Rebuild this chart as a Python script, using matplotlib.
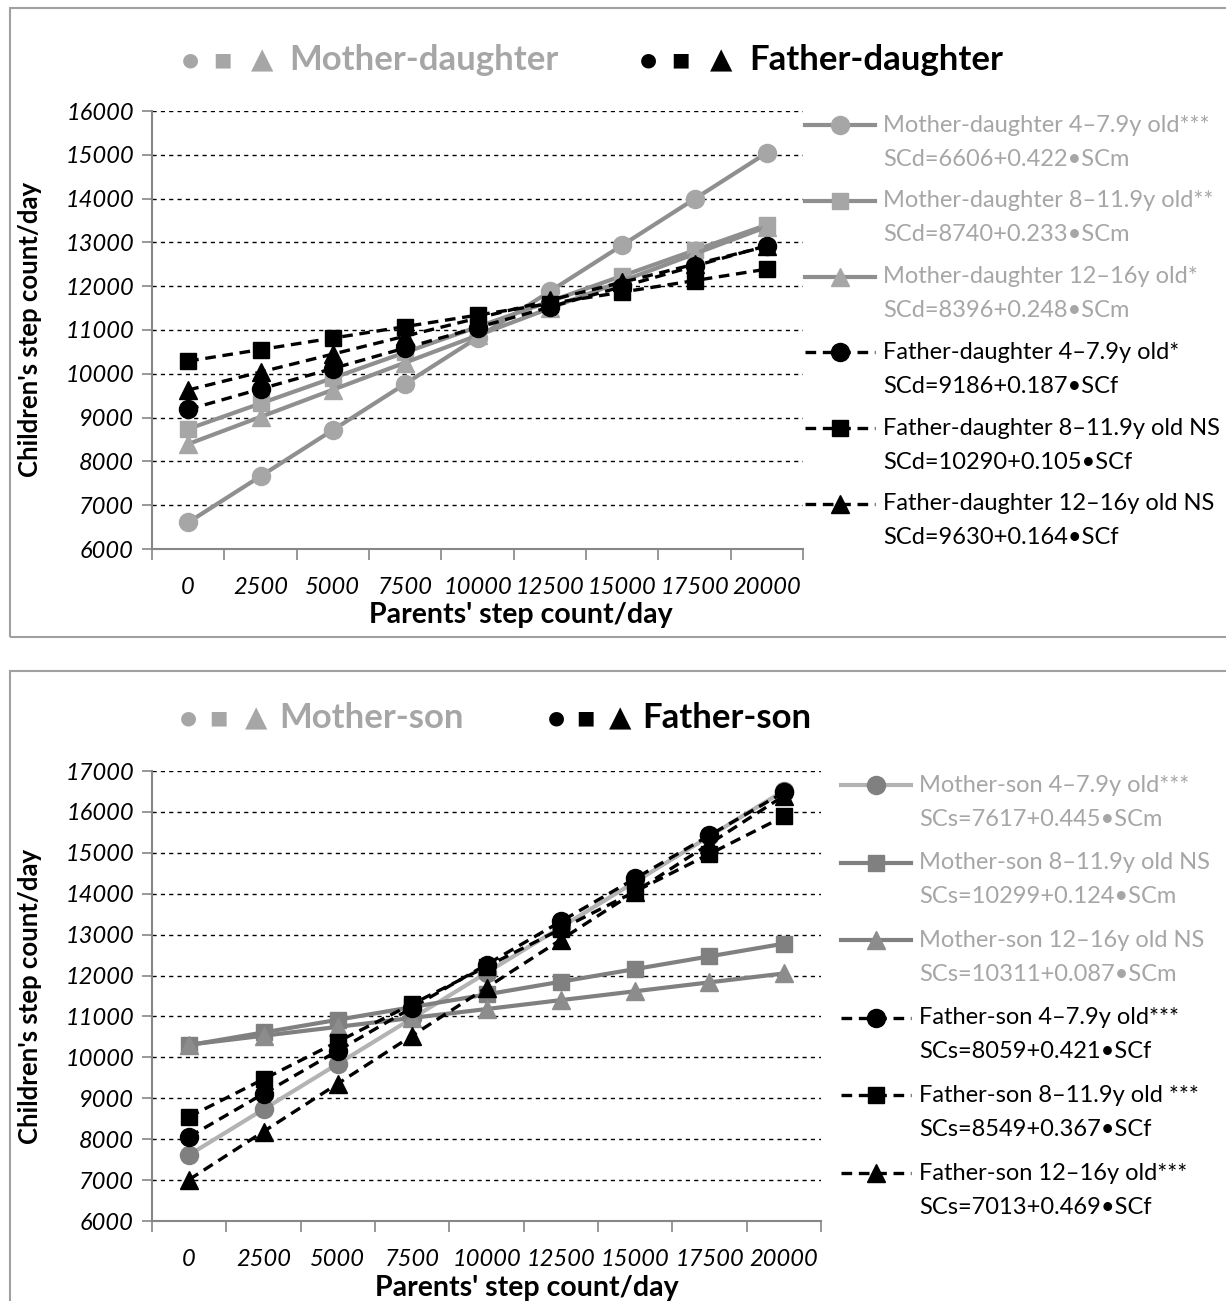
import matplotlib.pyplot as plt
from matplotlib.lines import Line2D
from matplotlib.patches import Rectangle

plt.rcParams['font.family'] = ['Lato', 'DejaVu Sans']

# x categories (parents' step count/day)
x_labels = ['0', '2500', '5000', '7500', '10000', '12500', '15000', '17500', '20000']

# daughters
md_4_7 = [6606, 7661, 8716, 9771, 10826, 11881, 12936, 13991, 15046]
md_8_11 = [8740, 9323, 9905, 10488, 11070, 11653, 12235, 12818, 13400]
md_12_16 = [8396, 9016, 9636, 10256, 10876, 11496, 12116, 12736, 13356]
fd_4_7 = [9186, 9654, 10121, 10589, 11056, 11524, 11991, 12459, 12926]
fd_8_11 = [10290, 10553, 10815, 11078, 11340, 11603, 11865, 12128, 12390]
fd_12_16 = [9630, 10040, 10450, 10860, 11270, 11680, 12090, 12500, 12910]

# sons
ms_4_7 = [7617, 8730, 9842, 10955, 12067, 13180, 14292, 15405, 16517]
ms_8_11 = [10299, 10609, 10919, 11229, 11539, 11849, 12159, 12469, 12779]
ms_12_16 = [10311, 10529, 10746, 10964, 11181, 11399, 11616, 11834, 12051]
fs_4_7 = [8059, 9112, 10164, 11217, 12269, 13322, 14374, 15427, 16479]
fs_8_11 = [8549, 9467, 10384, 11302, 12219, 13137, 14054, 14972, 15889]
fs_12_16 = [7013, 8186, 9358, 10531, 11703, 12876, 14048, 15221, 16393]

labels_d = ['Mother-daughter 4\u20137.9y old***', 'Mother-daughter 8\u201311.9y old**',
            'Mother-daughter 12\u201316y old*', 'Father-daughter 4\u20137.9y old*',
            'Father-daughter 8\u201311.9y old NS', 'Father-daughter 12\u201316y old NS']
eq_d = ['SCd=6606+0.422\u2022SCm', 'SCd=8740+0.233\u2022SCm', 'SCd=8396+0.248\u2022SCm',
        'SCd=9186+0.187\u2022SCf', 'SCd=10290+0.105\u2022SCf', 'SCd=9630+0.164\u2022SCf']
labels_s = ['Mother-son 4\u20137.9y old***', 'Mother-son 8\u201311.9y old NS',
            'Mother-son 12\u201316y old NS', 'Father-son 4\u20137.9y old***',
            'Father-son 8\u201311.9y old ***', 'Father-son 12\u201316y old***']
eq_s = ['SCs=7617+0.445\u2022SCm', 'SCs=10299+0.124\u2022SCm', 'SCs=10311+0.087\u2022SCm',
        'SCs=8059+0.421\u2022SCf', 'SCs=8549+0.367\u2022SCf', 'SCs=7013+0.469\u2022SCf']

W, H = 1226, 1301
fig = plt.figure(figsize=(W / 100, H / 100), dpi=100)


def fx(px):
    return px / W


def fy(py):
    return 1 - py / H


TXT_GRAY = '#a6a6a6'
DASH = (0, (3.2, 2.0))

# styles: (line color, marker, marker color, linestyle, lw)
styles_d = [('#8f8f8f', 'o', '#a6a6a6', '-', 3.0),
            ('#8f8f8f', 's', '#a6a6a6', '-', 3.0),
            ('#8f8f8f', '^', '#a6a6a6', '-', 3.0),
            ('black', 'o', 'black', DASH, 2.4),
            ('black', 's', 'black', DASH, 2.4),
            ('black', '^', 'black', DASH, 2.4)]
styles_s = [('#b3b3b3', 'o', '#808080', '-', 3.0),
            ('#808080', 's', '#808080', '-', 3.0),
            ('#808080', '^', '#8c8c8c', '-', 3.0),
            ('black', 'o', 'black', DASH, 2.4),
            ('black', 's', 'black', DASH, 2.4),
            ('black', '^', 'black', DASH, 2.4)]
msize = {'o': 13, 's': 12, '^': 13}


def panel(box, ax_px, ymax, series, styles, labels, eqs, leg_x, leg_y0, leg_dy,
          title_y, words, xl, yl_y):
    # border
    fig.add_artist(Rectangle((fx(box[0]), fy(box[3])), fx(box[2] - box[0]), (box[3] - box[1]) / H,
                             transform=fig.transFigure, fill=False, ec='#a0a0a0', lw=1.5))
    l, t, r, b = ax_px
    ax = fig.add_axes([fx(l), fy(b), fx(r - l), (b - t) / H])
    xs = list(range(len(x_labels)))
    for yv, (lc, mk, mc, ls, lw) in zip(series, styles):
        ax.plot(xs, yv, color=lc, ls=ls, lw=lw, marker=mk, ms=msize[mk],
                mfc=mc, mec=mc, zorder=3, clip_on=False)
    ax.set_xlim(-0.5, len(x_labels) - 0.5)
    ax.set_ylim(6000, ymax)
    ax.set_yticks(range(6000, ymax + 1, 1000))
    ax.set_xticks(xs)
    ax.set_xticklabels(x_labels)
    ax.set_xticks([i - 0.5 for i in range(len(x_labels) + 1)], minor=True)
    ax.tick_params(axis='x', which='major', length=0, pad=20, labelsize=17)
    ax.tick_params(axis='x', which='minor', length=8, width=1.2, color='#868686')
    ax.tick_params(axis='y', length=7, width=1.2, color='#868686', labelsize=17, pad=6)
    for lab in ax.get_xticklabels() + ax.get_yticklabels():
        lab.set_fontstyle('italic')
    for yv in range(7000, ymax + 1, 1000):
        ax.axhline(yv, color='black', lw=1.0, ls=(0, (3, 3)), zorder=1)
    for s in ['top', 'right']:
        ax.spines[s].set_visible(False)
    for s in ['left', 'bottom']:
        ax.spines[s].set_color('#868686')
        ax.spines[s].set_linewidth(1.5)
    fig.text(fx(xl[0]), fy(xl[1]), "Parents' step count/day", fontsize=20.5,
             fontweight='bold', ha='center', va='center')
    fig.text(fx(30), fy(yl_y), "Children's step count/day", fontsize=18.5,
             fontweight='bold', ha='center', va='center', rotation=90)

    # legend
    for i, (lc, mk, mc, ls, lw) in enumerate(styles):
        y = leg_y0 + i * leg_dy
        x0, x1 = leg_x, leg_x + 70
        fig.add_artist(Line2D([fx(x0), fx((x0 + x1) / 2), fx(x1)], [fy(y)] * 3,
                              transform=fig.transFigure, color=lc, ls=ls, lw=lw,
                              marker=mk, ms=msize[mk], mfc=mc, mec=mc, markevery=[1]))
        tc = TXT_GRAY if i < 3 else 'black'
        fig.text(fx(x1 + 8), fy(y), labels[i], color=tc, fontsize=17, va='center', ha='left')
        fig.text(fx(x1 + 8), fy(y + 34), eqs[i], color=tc, fontsize=17, va='center', ha='left')

    # title row: three symbols then the word
    for (sym_x, word, wx, col) in words:
        for sx, sym, size in zip(sym_x, ['\u25cf', '\u25a0', '\u25b2'], [14, 14, 21]):
            fig.text(fx(sx), fy(title_y), sym, color=col, fontsize=size,
                     family='DejaVu Sans', ha='center', va='center')
        fig.text(fx(wx), fy(title_y), word, color=col, fontsize=25, fontweight='bold',
                 ha='left', va='center')
    return ax


panel((10, 8, 1240, 637), (152, 111, 803, 549), 16000,
      [md_4_7, md_8_11, md_12_16, fd_4_7, fd_8_11, fd_12_16], styles_d,
      labels_d, eq_d, 805, 125, 75.8, 60,
      [((190, 222, 262), 'Mother-daughter', 289, TXT_GRAY),
       ((648, 680, 721), 'Father-daughter', 749, 'black')],
      (521, 615), 329)

panel((10, 671, 1240, 1320), (152, 771, 821, 1221), 17000,
      [ms_4_7, ms_8_11, ms_12_16, fs_4_7, fs_8_11, fs_12_16], styles_s,
      labels_s, eq_s, 841, 785, 77.6, 718,
      [((188, 218, 256), 'Mother-son', 279, TXT_GRAY),
       ((556, 585, 620), 'Father-son', 642, 'black')],
      (527, 1288), 996)

fig.savefig('out.png', dpi=100)
